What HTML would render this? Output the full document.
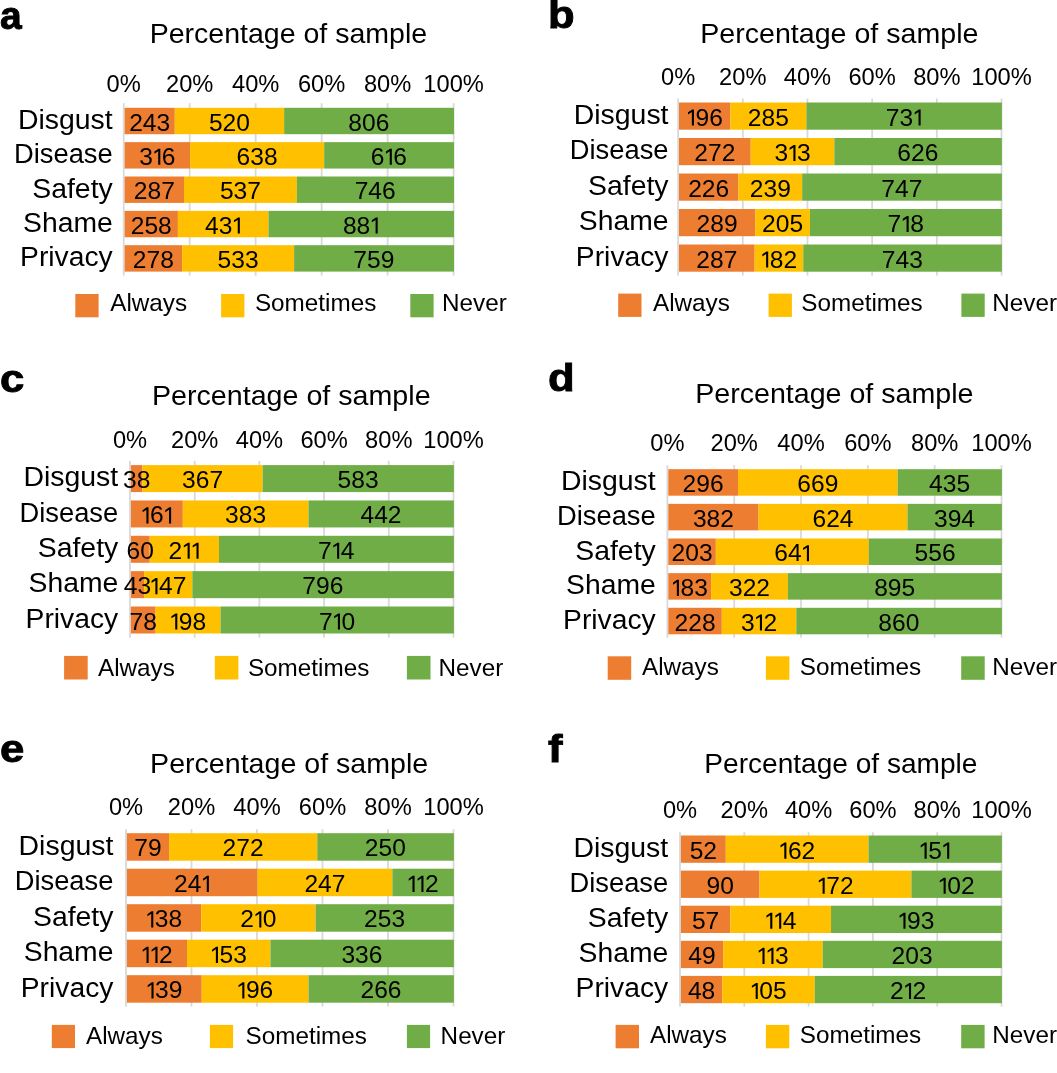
<!DOCTYPE html>
<html><head><meta charset="utf-8"><title>Chart</title>
<style>
html,body{margin:0;padding:0;background:#fff;width:1057px;height:1073px;overflow:hidden}
svg{display:block;will-change:transform;font-family:"Liberation Sans",sans-serif;fill:#000}
text{fill:#000}
</style></head><body>
<svg width="1057" height="1073" viewBox="0 0 1057 1073">
<defs><path id="one" d="M0.85 0 L2.95 0 L2.95 -16.1 L1.2 -16.1 L-2.95 -13.3 L-2.95 -11.2 L0.85 -13.6 Z" fill="#000"/></defs>
<rect width="1057" height="1073" fill="#fff"/>
<g id="pa">
<rect x="122.8" y="103.2" width="1.8" height="172.5" fill="#D9D9D9"/>
<rect x="188.78" y="103.2" width="1.8" height="172.5" fill="#D9D9D9"/>
<rect x="254.76" y="103.2" width="1.8" height="172.5" fill="#D9D9D9"/>
<rect x="320.74" y="103.2" width="1.8" height="172.5" fill="#D9D9D9"/>
<rect x="386.72" y="103.2" width="1.8" height="172.5" fill="#D9D9D9"/>
<rect x="452.7" y="103.2" width="1.8" height="172.5" fill="#D9D9D9"/>
<rect x="124.6" y="107.8" width="50.19" height="26.4" fill="#ED7D31"/>
<rect x="174.79" y="107.8" width="109.34" height="26.4" fill="#FFC000"/>
<rect x="284.13" y="107.8" width="169.87" height="26.4" fill="#70AD47"/>
<rect x="124.6" y="142.15" width="65.5" height="26.4" fill="#ED7D31"/>
<rect x="190.1" y="142.15" width="134.06" height="26.4" fill="#FFC000"/>
<rect x="324.16" y="142.15" width="129.84" height="26.4" fill="#70AD47"/>
<rect x="124.6" y="176.5" width="59.41" height="26.4" fill="#ED7D31"/>
<rect x="184.01" y="176.5" width="112.84" height="26.4" fill="#FFC000"/>
<rect x="296.84" y="176.5" width="157.16" height="26.4" fill="#70AD47"/>
<rect x="124.6" y="210.85" width="53.31" height="26.4" fill="#ED7D31"/>
<rect x="177.91" y="210.85" width="90.56" height="26.4" fill="#FFC000"/>
<rect x="268.48" y="210.85" width="185.52" height="26.4" fill="#70AD47"/>
<rect x="124.6" y="245.2" width="57.52" height="26.4" fill="#ED7D31"/>
<rect x="182.12" y="245.2" width="112" height="26.4" fill="#FFC000"/>
<rect x="294.11" y="245.2" width="159.89" height="26.4" fill="#70AD47"/>
<text transform="translate(136,130.5) scale(1.07,1)" text-anchor="middle" font-size="23">2</text><text transform="translate(149.7,130.5) scale(1.07,1)" text-anchor="middle" font-size="23">4</text><text transform="translate(163.4,130.5) scale(1.07,1)" text-anchor="middle" font-size="23">3</text>
<text transform="translate(215.76,130.5) scale(1.07,1)" text-anchor="middle" font-size="23">5</text><text transform="translate(229.46,130.5) scale(1.07,1)" text-anchor="middle" font-size="23">2</text><text transform="translate(243.16,130.5) scale(1.07,1)" text-anchor="middle" font-size="23">0</text>
<text transform="translate(355.16,130.5) scale(1.07,1)" text-anchor="middle" font-size="23">8</text><text transform="translate(368.86,130.5) scale(1.07,1)" text-anchor="middle" font-size="23">0</text><text transform="translate(382.56,130.5) scale(1.07,1)" text-anchor="middle" font-size="23">6</text>
<text transform="translate(146.05,164.85) scale(1.07,1)" text-anchor="middle" font-size="23">3</text><use href="#one" x="157.35" y="164.85"/><text transform="translate(168.65,164.85) scale(1.07,1)" text-anchor="middle" font-size="23">6</text>
<text transform="translate(243.43,164.85) scale(1.07,1)" text-anchor="middle" font-size="23">6</text><text transform="translate(257.13,164.85) scale(1.07,1)" text-anchor="middle" font-size="23">3</text><text transform="translate(270.83,164.85) scale(1.07,1)" text-anchor="middle" font-size="23">8</text>
<text transform="translate(377.58,164.85) scale(1.07,1)" text-anchor="middle" font-size="23">6</text><use href="#one" x="388.88" y="164.85"/><text transform="translate(400.18,164.85) scale(1.07,1)" text-anchor="middle" font-size="23">6</text>
<text transform="translate(140.6,199.2) scale(1.07,1)" text-anchor="middle" font-size="23">2</text><text transform="translate(154.3,199.2) scale(1.07,1)" text-anchor="middle" font-size="23">8</text><text transform="translate(168,199.2) scale(1.07,1)" text-anchor="middle" font-size="23">7</text>
<text transform="translate(226.73,199.2) scale(1.07,1)" text-anchor="middle" font-size="23">5</text><text transform="translate(240.43,199.2) scale(1.07,1)" text-anchor="middle" font-size="23">3</text><text transform="translate(254.13,199.2) scale(1.07,1)" text-anchor="middle" font-size="23">7</text>
<text transform="translate(361.52,199.2) scale(1.07,1)" text-anchor="middle" font-size="23">7</text><text transform="translate(375.22,199.2) scale(1.07,1)" text-anchor="middle" font-size="23">4</text><text transform="translate(388.92,199.2) scale(1.07,1)" text-anchor="middle" font-size="23">6</text>
<text transform="translate(137.56,233.55) scale(1.07,1)" text-anchor="middle" font-size="23">2</text><text transform="translate(151.26,233.55) scale(1.07,1)" text-anchor="middle" font-size="23">5</text><text transform="translate(164.96,233.55) scale(1.07,1)" text-anchor="middle" font-size="23">8</text>
<text transform="translate(211.9,233.55) scale(1.07,1)" text-anchor="middle" font-size="23">4</text><text transform="translate(225.6,233.55) scale(1.07,1)" text-anchor="middle" font-size="23">3</text><use href="#one" x="236.9" y="233.55"/>
<text transform="translate(349.74,233.55) scale(1.07,1)" text-anchor="middle" font-size="23">8</text><text transform="translate(363.44,233.55) scale(1.07,1)" text-anchor="middle" font-size="23">8</text><use href="#one" x="374.74" y="233.55"/>
<text transform="translate(139.66,267.9) scale(1.07,1)" text-anchor="middle" font-size="23">2</text><text transform="translate(153.36,267.9) scale(1.07,1)" text-anchor="middle" font-size="23">7</text><text transform="translate(167.06,267.9) scale(1.07,1)" text-anchor="middle" font-size="23">8</text>
<text transform="translate(224.41,267.9) scale(1.07,1)" text-anchor="middle" font-size="23">5</text><text transform="translate(238.11,267.9) scale(1.07,1)" text-anchor="middle" font-size="23">3</text><text transform="translate(251.81,267.9) scale(1.07,1)" text-anchor="middle" font-size="23">3</text>
<text transform="translate(360.16,267.9) scale(1.07,1)" text-anchor="middle" font-size="23">7</text><text transform="translate(373.86,267.9) scale(1.07,1)" text-anchor="middle" font-size="23">5</text><text transform="translate(387.56,267.9) scale(1.07,1)" text-anchor="middle" font-size="23">9</text>
<text transform="translate(112.7,128.8) scale(1.034,1)" text-anchor="end" font-size="27.5">Disgust</text>
<text transform="translate(112.7,163.15) scale(0.994,1)" text-anchor="end" font-size="27.5">Disease</text>
<text transform="translate(112.7,197.5) scale(1.032,1)" text-anchor="end" font-size="27.5">Safety</text>
<text transform="translate(112.7,231.85) scale(1.029,1)" text-anchor="end" font-size="27.5">Shame</text>
<text transform="translate(112.7,266.2) scale(1.028,1)" text-anchor="end" font-size="27.5">Privacy</text>
<text transform="translate(123.7,91.8) scale(1.03,1)" text-anchor="middle" font-size="23">0%</text>
<text transform="translate(189.68,91.8) scale(1.03,1)" text-anchor="middle" font-size="23">20%</text>
<text transform="translate(255.66,91.8) scale(1.03,1)" text-anchor="middle" font-size="23">40%</text>
<text transform="translate(321.64,91.8) scale(1.03,1)" text-anchor="middle" font-size="23">60%</text>
<text transform="translate(387.62,91.8) scale(1.03,1)" text-anchor="middle" font-size="23">80%</text>
<text transform="translate(453.6,91.8) scale(1.03,1)" text-anchor="middle" font-size="23">100%</text>
<text x="288.45" y="42.7" text-anchor="middle" font-size="27.5" textLength="277.5" lengthAdjust="spacingAndGlyphs">Percentage of sample</text>
<text transform="translate(0,28.8) scale(1.0,1)" font-size="39" font-weight="bold" stroke="#000" stroke-width="0.9">a</text>
<rect x="75.3" y="294" width="23.3" height="23.3" fill="#ED7D31"/>
<text transform="translate(110.2,311) scale(1.012,1)" font-size="24">Always</text>
<rect x="221.1" y="294" width="23.3" height="23.3" fill="#FFC000"/>
<text transform="translate(254.9,311) scale(1.012,1)" font-size="24">Sometimes</text>
<rect x="410.3" y="294" width="23.3" height="23.3" fill="#70AD47"/>
<text transform="translate(442,311) scale(1.012,1)" font-size="24">Never</text>
</g>
<g id="pb">
<rect x="677.2" y="98.5" width="1.8" height="177.1" fill="#D9D9D9"/>
<rect x="741.88" y="98.5" width="1.8" height="177.1" fill="#D9D9D9"/>
<rect x="806.56" y="98.5" width="1.8" height="177.1" fill="#D9D9D9"/>
<rect x="871.24" y="98.5" width="1.8" height="177.1" fill="#D9D9D9"/>
<rect x="935.92" y="98.5" width="1.8" height="177.1" fill="#D9D9D9"/>
<rect x="1000.6" y="98.5" width="1.8" height="177.1" fill="#D9D9D9"/>
<rect x="679" y="102.5" width="51.4" height="27.2" fill="#ED7D31"/>
<rect x="730.4" y="102.5" width="76.05" height="27.2" fill="#FFC000"/>
<rect x="806.45" y="102.5" width="195.45" height="27.2" fill="#70AD47"/>
<rect x="679" y="138" width="71.74" height="27.2" fill="#ED7D31"/>
<rect x="750.74" y="138" width="83.59" height="27.2" fill="#FFC000"/>
<rect x="834.33" y="138" width="167.57" height="27.2" fill="#70AD47"/>
<rect x="679" y="173.5" width="59.4" height="27.2" fill="#ED7D31"/>
<rect x="738.4" y="173.5" width="63.77" height="27.2" fill="#FFC000"/>
<rect x="802.18" y="173.5" width="199.72" height="27.2" fill="#70AD47"/>
<rect x="679" y="209" width="76.21" height="27.2" fill="#ED7D31"/>
<rect x="755.21" y="209" width="54.7" height="27.2" fill="#FFC000"/>
<rect x="809.91" y="209" width="191.99" height="27.2" fill="#70AD47"/>
<rect x="679" y="244.5" width="75.68" height="27.2" fill="#ED7D31"/>
<rect x="754.68" y="244.5" width="48.56" height="27.2" fill="#FFC000"/>
<rect x="803.24" y="244.5" width="198.66" height="27.2" fill="#70AD47"/>
<use href="#one" x="691" y="125.6"/><text transform="translate(702.3,125.6) scale(1.07,1)" text-anchor="middle" font-size="23">9</text><text transform="translate(716,125.6) scale(1.07,1)" text-anchor="middle" font-size="23">6</text>
<text transform="translate(754.72,125.6) scale(1.07,1)" text-anchor="middle" font-size="23">2</text><text transform="translate(768.42,125.6) scale(1.07,1)" text-anchor="middle" font-size="23">8</text><text transform="translate(782.12,125.6) scale(1.07,1)" text-anchor="middle" font-size="23">5</text>
<text transform="translate(892.67,125.6) scale(1.07,1)" text-anchor="middle" font-size="23">7</text><text transform="translate(906.37,125.6) scale(1.07,1)" text-anchor="middle" font-size="23">3</text><use href="#one" x="917.67" y="125.6"/>
<text transform="translate(701.17,161.1) scale(1.07,1)" text-anchor="middle" font-size="23">2</text><text transform="translate(714.87,161.1) scale(1.07,1)" text-anchor="middle" font-size="23">7</text><text transform="translate(728.57,161.1) scale(1.07,1)" text-anchor="middle" font-size="23">2</text>
<text transform="translate(781.23,161.1) scale(1.07,1)" text-anchor="middle" font-size="23">3</text><use href="#one" x="792.53" y="161.1"/><text transform="translate(803.83,161.1) scale(1.07,1)" text-anchor="middle" font-size="23">3</text>
<text transform="translate(904.21,161.1) scale(1.07,1)" text-anchor="middle" font-size="23">6</text><text transform="translate(917.91,161.1) scale(1.07,1)" text-anchor="middle" font-size="23">2</text><text transform="translate(931.61,161.1) scale(1.07,1)" text-anchor="middle" font-size="23">6</text>
<text transform="translate(695,196.6) scale(1.07,1)" text-anchor="middle" font-size="23">2</text><text transform="translate(708.7,196.6) scale(1.07,1)" text-anchor="middle" font-size="23">2</text><text transform="translate(722.4,196.6) scale(1.07,1)" text-anchor="middle" font-size="23">6</text>
<text transform="translate(756.59,196.6) scale(1.07,1)" text-anchor="middle" font-size="23">2</text><text transform="translate(770.29,196.6) scale(1.07,1)" text-anchor="middle" font-size="23">3</text><text transform="translate(783.99,196.6) scale(1.07,1)" text-anchor="middle" font-size="23">9</text>
<text transform="translate(888.14,196.6) scale(1.07,1)" text-anchor="middle" font-size="23">7</text><text transform="translate(901.84,196.6) scale(1.07,1)" text-anchor="middle" font-size="23">4</text><text transform="translate(915.54,196.6) scale(1.07,1)" text-anchor="middle" font-size="23">7</text>
<text transform="translate(703.41,232.1) scale(1.07,1)" text-anchor="middle" font-size="23">2</text><text transform="translate(717.11,232.1) scale(1.07,1)" text-anchor="middle" font-size="23">8</text><text transform="translate(730.81,232.1) scale(1.07,1)" text-anchor="middle" font-size="23">9</text>
<text transform="translate(768.86,232.1) scale(1.07,1)" text-anchor="middle" font-size="23">2</text><text transform="translate(782.56,232.1) scale(1.07,1)" text-anchor="middle" font-size="23">0</text><text transform="translate(796.26,232.1) scale(1.07,1)" text-anchor="middle" font-size="23">5</text>
<text transform="translate(894.41,232.1) scale(1.07,1)" text-anchor="middle" font-size="23">7</text><use href="#one" x="905.71" y="232.1"/><text transform="translate(917.01,232.1) scale(1.07,1)" text-anchor="middle" font-size="23">8</text>
<text transform="translate(703.14,267.6) scale(1.07,1)" text-anchor="middle" font-size="23">2</text><text transform="translate(716.84,267.6) scale(1.07,1)" text-anchor="middle" font-size="23">8</text><text transform="translate(730.54,267.6) scale(1.07,1)" text-anchor="middle" font-size="23">7</text>
<use href="#one" x="765.26" y="267.6"/><text transform="translate(776.56,267.6) scale(1.07,1)" text-anchor="middle" font-size="23">8</text><text transform="translate(790.26,267.6) scale(1.07,1)" text-anchor="middle" font-size="23">2</text>
<text transform="translate(888.67,267.6) scale(1.07,1)" text-anchor="middle" font-size="23">7</text><text transform="translate(902.37,267.6) scale(1.07,1)" text-anchor="middle" font-size="23">4</text><text transform="translate(916.07,267.6) scale(1.07,1)" text-anchor="middle" font-size="23">3</text>
<text transform="translate(668.5,123.9) scale(1.034,1)" text-anchor="end" font-size="27.5">Disgust</text>
<text transform="translate(668.5,159.4) scale(0.994,1)" text-anchor="end" font-size="27.5">Disease</text>
<text transform="translate(668.5,194.9) scale(1.032,1)" text-anchor="end" font-size="27.5">Safety</text>
<text transform="translate(668.5,230.4) scale(1.029,1)" text-anchor="end" font-size="27.5">Shame</text>
<text transform="translate(668.5,265.9) scale(1.028,1)" text-anchor="end" font-size="27.5">Privacy</text>
<text transform="translate(678.1,85) scale(1.03,1)" text-anchor="middle" font-size="23">0%</text>
<text transform="translate(742.78,85) scale(1.03,1)" text-anchor="middle" font-size="23">20%</text>
<text transform="translate(807.46,85) scale(1.03,1)" text-anchor="middle" font-size="23">40%</text>
<text transform="translate(872.14,85) scale(1.03,1)" text-anchor="middle" font-size="23">60%</text>
<text transform="translate(936.82,85) scale(1.03,1)" text-anchor="middle" font-size="23">80%</text>
<text transform="translate(1001.5,85) scale(1.03,1)" text-anchor="middle" font-size="23">100%</text>
<text x="839.35" y="42.9" text-anchor="middle" font-size="27.5" textLength="278.1" lengthAdjust="spacingAndGlyphs">Percentage of sample</text>
<text transform="translate(548,28.3) scale(1.12,1)" font-size="39" font-weight="bold" stroke="#000" stroke-width="0.9">b</text>
<rect x="618.2" y="293.6" width="23.3" height="23.3" fill="#ED7D31"/>
<text transform="translate(653,310.5) scale(1.012,1)" font-size="24">Always</text>
<rect x="768.6" y="293.6" width="23.3" height="23.3" fill="#FFC000"/>
<text transform="translate(801.3,310.5) scale(1.012,1)" font-size="24">Sometimes</text>
<rect x="961.4" y="293.6" width="23.3" height="23.3" fill="#70AD47"/>
<text transform="translate(992.3,310.5) scale(1.012,1)" font-size="24">Never</text>
</g>
<g id="pc">
<rect x="129.1" y="460.9" width="1.8" height="176.8" fill="#D9D9D9"/>
<rect x="193.8" y="460.9" width="1.8" height="176.8" fill="#D9D9D9"/>
<rect x="258.5" y="460.9" width="1.8" height="176.8" fill="#D9D9D9"/>
<rect x="323.2" y="460.9" width="1.8" height="176.8" fill="#D9D9D9"/>
<rect x="387.9" y="460.9" width="1.8" height="176.8" fill="#D9D9D9"/>
<rect x="452.6" y="460.9" width="1.8" height="176.8" fill="#D9D9D9"/>
<rect x="130.9" y="465.1" width="11.54" height="27" fill="#ED7D31"/>
<rect x="142.44" y="465.1" width="120.17" height="27" fill="#FFC000"/>
<rect x="262.61" y="465.1" width="191.29" height="27" fill="#70AD47"/>
<rect x="130.9" y="500.45" width="51.92" height="27" fill="#ED7D31"/>
<rect x="182.82" y="500.45" width="125.66" height="27" fill="#FFC000"/>
<rect x="308.48" y="500.45" width="145.42" height="27" fill="#70AD47"/>
<rect x="130.9" y="535.8" width="18.81" height="27" fill="#ED7D31"/>
<rect x="149.71" y="535.8" width="69.3" height="27" fill="#FFC000"/>
<rect x="219" y="535.8" width="234.9" height="27" fill="#70AD47"/>
<rect x="130.9" y="571.15" width="13.21" height="27" fill="#ED7D31"/>
<rect x="144.11" y="571.15" width="48.23" height="27" fill="#FFC000"/>
<rect x="192.34" y="571.15" width="261.56" height="27" fill="#70AD47"/>
<rect x="130.9" y="606.5" width="24.69" height="27" fill="#ED7D31"/>
<rect x="155.59" y="606.5" width="64.96" height="27" fill="#FFC000"/>
<rect x="220.55" y="606.5" width="233.35" height="27" fill="#70AD47"/>
<text transform="translate(129.82,488.1) scale(1.07,1)" text-anchor="middle" font-size="23">3</text><text transform="translate(143.52,488.1) scale(1.07,1)" text-anchor="middle" font-size="23">8</text>
<text transform="translate(188.83,488.1) scale(1.07,1)" text-anchor="middle" font-size="23">3</text><text transform="translate(202.53,488.1) scale(1.07,1)" text-anchor="middle" font-size="23">6</text><text transform="translate(216.23,488.1) scale(1.07,1)" text-anchor="middle" font-size="23">7</text>
<text transform="translate(344.35,488.1) scale(1.07,1)" text-anchor="middle" font-size="23">5</text><text transform="translate(358.05,488.1) scale(1.07,1)" text-anchor="middle" font-size="23">8</text><text transform="translate(371.75,488.1) scale(1.07,1)" text-anchor="middle" font-size="23">3</text>
<use href="#one" x="145.56" y="523.45"/><text transform="translate(156.86,523.45) scale(1.07,1)" text-anchor="middle" font-size="23">6</text><use href="#one" x="168.16" y="523.45"/>
<text transform="translate(231.95,523.45) scale(1.07,1)" text-anchor="middle" font-size="23">3</text><text transform="translate(245.65,523.45) scale(1.07,1)" text-anchor="middle" font-size="23">8</text><text transform="translate(259.35,523.45) scale(1.07,1)" text-anchor="middle" font-size="23">3</text>
<text transform="translate(367.29,523.45) scale(1.07,1)" text-anchor="middle" font-size="23">4</text><text transform="translate(380.99,523.45) scale(1.07,1)" text-anchor="middle" font-size="23">4</text><text transform="translate(394.69,523.45) scale(1.07,1)" text-anchor="middle" font-size="23">2</text>
<text transform="translate(133.45,558.8) scale(1.07,1)" text-anchor="middle" font-size="23">6</text><text transform="translate(147.15,558.8) scale(1.07,1)" text-anchor="middle" font-size="23">0</text>
<text transform="translate(175.45,558.8) scale(1.07,1)" text-anchor="middle" font-size="23">2</text><use href="#one" x="186.75" y="558.8"/><use href="#one" x="195.65" y="558.8"/>
<text transform="translate(324.95,558.8) scale(1.07,1)" text-anchor="middle" font-size="23">7</text><use href="#one" x="336.25" y="558.8"/><text transform="translate(347.55,558.8) scale(1.07,1)" text-anchor="middle" font-size="23">4</text>
<text transform="translate(130.65,594.15) scale(1.07,1)" text-anchor="middle" font-size="23">4</text><text transform="translate(144.35,594.15) scale(1.07,1)" text-anchor="middle" font-size="23">3</text>
<use href="#one" x="154.52" y="594.15"/><text transform="translate(165.82,594.15) scale(1.07,1)" text-anchor="middle" font-size="23">4</text><text transform="translate(179.52,594.15) scale(1.07,1)" text-anchor="middle" font-size="23">7</text>
<text transform="translate(309.22,594.15) scale(1.07,1)" text-anchor="middle" font-size="23">7</text><text transform="translate(322.92,594.15) scale(1.07,1)" text-anchor="middle" font-size="23">9</text><text transform="translate(336.62,594.15) scale(1.07,1)" text-anchor="middle" font-size="23">6</text>
<text transform="translate(136.4,629.5) scale(1.07,1)" text-anchor="middle" font-size="23">7</text><text transform="translate(150.1,629.5) scale(1.07,1)" text-anchor="middle" font-size="23">8</text>
<use href="#one" x="174.37" y="629.5"/><text transform="translate(185.67,629.5) scale(1.07,1)" text-anchor="middle" font-size="23">9</text><text transform="translate(199.37,629.5) scale(1.07,1)" text-anchor="middle" font-size="23">8</text>
<text transform="translate(325.73,629.5) scale(1.07,1)" text-anchor="middle" font-size="23">7</text><use href="#one" x="337.03" y="629.5"/><text transform="translate(348.33,629.5) scale(1.07,1)" text-anchor="middle" font-size="23">0</text>
<text transform="translate(118.2,486.4) scale(1.034,1)" text-anchor="end" font-size="27.5">Disgust</text>
<text transform="translate(118.2,521.75) scale(0.994,1)" text-anchor="end" font-size="27.5">Disease</text>
<text transform="translate(118.2,557.1) scale(1.032,1)" text-anchor="end" font-size="27.5">Safety</text>
<text transform="translate(118.2,592.45) scale(1.029,1)" text-anchor="end" font-size="27.5">Shame</text>
<text transform="translate(118.2,627.8) scale(1.028,1)" text-anchor="end" font-size="27.5">Privacy</text>
<text transform="translate(130,447.6) scale(1.03,1)" text-anchor="middle" font-size="23">0%</text>
<text transform="translate(194.7,447.6) scale(1.03,1)" text-anchor="middle" font-size="23">20%</text>
<text transform="translate(259.4,447.6) scale(1.03,1)" text-anchor="middle" font-size="23">40%</text>
<text transform="translate(324.1,447.6) scale(1.03,1)" text-anchor="middle" font-size="23">60%</text>
<text transform="translate(388.8,447.6) scale(1.03,1)" text-anchor="middle" font-size="23">80%</text>
<text transform="translate(453.5,447.6) scale(1.03,1)" text-anchor="middle" font-size="23">100%</text>
<text x="291.3" y="405" text-anchor="middle" font-size="27.5" textLength="278.6" lengthAdjust="spacingAndGlyphs">Percentage of sample</text>
<text transform="translate(0,391.5) scale(1.12,1)" font-size="39" font-weight="bold" stroke="#000" stroke-width="0.9">c</text>
<rect x="64.1" y="655.9" width="23.6" height="23.6" fill="#ED7D31"/>
<text transform="translate(98,676.3) scale(1.012,1)" font-size="24">Always</text>
<rect x="214.8" y="655.9" width="23.6" height="23.6" fill="#FFC000"/>
<text transform="translate(247.9,676.3) scale(1.012,1)" font-size="24">Sometimes</text>
<rect x="406.9" y="655.9" width="23.6" height="23.6" fill="#70AD47"/>
<text transform="translate(438.5,676.3) scale(1.012,1)" font-size="24">Never</text>
</g>
<g id="pd">
<rect x="666.5" y="465.2" width="1.8" height="172.5" fill="#D9D9D9"/>
<rect x="733.32" y="465.2" width="1.8" height="172.5" fill="#D9D9D9"/>
<rect x="800.14" y="465.2" width="1.8" height="172.5" fill="#D9D9D9"/>
<rect x="866.96" y="465.2" width="1.8" height="172.5" fill="#D9D9D9"/>
<rect x="933.78" y="465.2" width="1.8" height="172.5" fill="#D9D9D9"/>
<rect x="1000.6" y="465.2" width="1.8" height="172.5" fill="#D9D9D9"/>
<rect x="668.3" y="469.2" width="69.74" height="26.5" fill="#ED7D31"/>
<rect x="738.04" y="469.2" width="159.65" height="26.5" fill="#FFC000"/>
<rect x="897.69" y="469.2" width="104.21" height="26.5" fill="#70AD47"/>
<rect x="668.3" y="503.85" width="90.26" height="26.5" fill="#ED7D31"/>
<rect x="758.56" y="503.85" width="148.91" height="26.5" fill="#FFC000"/>
<rect x="907.47" y="503.85" width="94.43" height="26.5" fill="#70AD47"/>
<rect x="668.3" y="538.5" width="47.54" height="26.5" fill="#ED7D31"/>
<rect x="715.84" y="538.5" width="152.97" height="26.5" fill="#FFC000"/>
<rect x="868.81" y="538.5" width="133.09" height="26.5" fill="#70AD47"/>
<rect x="668.3" y="573.15" width="42.77" height="26.5" fill="#ED7D31"/>
<rect x="711.07" y="573.15" width="76.84" height="26.5" fill="#FFC000"/>
<rect x="787.91" y="573.15" width="213.99" height="26.5" fill="#70AD47"/>
<rect x="668.3" y="607.8" width="53.51" height="26.5" fill="#ED7D31"/>
<rect x="721.81" y="607.8" width="74.46" height="26.5" fill="#FFC000"/>
<rect x="796.27" y="607.8" width="205.63" height="26.5" fill="#70AD47"/>
<text transform="translate(689.47,491.95) scale(1.07,1)" text-anchor="middle" font-size="23">2</text><text transform="translate(703.17,491.95) scale(1.07,1)" text-anchor="middle" font-size="23">9</text><text transform="translate(716.87,491.95) scale(1.07,1)" text-anchor="middle" font-size="23">6</text>
<text transform="translate(804.16,491.95) scale(1.07,1)" text-anchor="middle" font-size="23">6</text><text transform="translate(817.86,491.95) scale(1.07,1)" text-anchor="middle" font-size="23">6</text><text transform="translate(831.56,491.95) scale(1.07,1)" text-anchor="middle" font-size="23">9</text>
<text transform="translate(935.9,491.95) scale(1.07,1)" text-anchor="middle" font-size="23">4</text><text transform="translate(949.6,491.95) scale(1.07,1)" text-anchor="middle" font-size="23">3</text><text transform="translate(963.3,491.95) scale(1.07,1)" text-anchor="middle" font-size="23">5</text>
<text transform="translate(699.73,526.6) scale(1.07,1)" text-anchor="middle" font-size="23">3</text><text transform="translate(713.43,526.6) scale(1.07,1)" text-anchor="middle" font-size="23">8</text><text transform="translate(727.13,526.6) scale(1.07,1)" text-anchor="middle" font-size="23">2</text>
<text transform="translate(819.32,526.6) scale(1.07,1)" text-anchor="middle" font-size="23">6</text><text transform="translate(833.02,526.6) scale(1.07,1)" text-anchor="middle" font-size="23">2</text><text transform="translate(846.72,526.6) scale(1.07,1)" text-anchor="middle" font-size="23">4</text>
<text transform="translate(940.79,526.6) scale(1.07,1)" text-anchor="middle" font-size="23">3</text><text transform="translate(954.49,526.6) scale(1.07,1)" text-anchor="middle" font-size="23">9</text><text transform="translate(968.19,526.6) scale(1.07,1)" text-anchor="middle" font-size="23">4</text>
<text transform="translate(678.37,561.25) scale(1.07,1)" text-anchor="middle" font-size="23">2</text><text transform="translate(692.07,561.25) scale(1.07,1)" text-anchor="middle" font-size="23">0</text><text transform="translate(705.77,561.25) scale(1.07,1)" text-anchor="middle" font-size="23">3</text>
<text transform="translate(781.03,561.25) scale(1.07,1)" text-anchor="middle" font-size="23">6</text><text transform="translate(794.73,561.25) scale(1.07,1)" text-anchor="middle" font-size="23">4</text><use href="#one" x="806.03" y="561.25"/>
<text transform="translate(921.46,561.25) scale(1.07,1)" text-anchor="middle" font-size="23">5</text><text transform="translate(935.16,561.25) scale(1.07,1)" text-anchor="middle" font-size="23">5</text><text transform="translate(948.86,561.25) scale(1.07,1)" text-anchor="middle" font-size="23">6</text>
<use href="#one" x="675.99" y="595.9"/><text transform="translate(687.29,595.9) scale(1.07,1)" text-anchor="middle" font-size="23">8</text><text transform="translate(700.99,595.9) scale(1.07,1)" text-anchor="middle" font-size="23">3</text>
<text transform="translate(735.79,595.9) scale(1.07,1)" text-anchor="middle" font-size="23">3</text><text transform="translate(749.49,595.9) scale(1.07,1)" text-anchor="middle" font-size="23">2</text><text transform="translate(763.19,595.9) scale(1.07,1)" text-anchor="middle" font-size="23">2</text>
<text transform="translate(881.01,595.9) scale(1.07,1)" text-anchor="middle" font-size="23">8</text><text transform="translate(894.71,595.9) scale(1.07,1)" text-anchor="middle" font-size="23">9</text><text transform="translate(908.41,595.9) scale(1.07,1)" text-anchor="middle" font-size="23">5</text>
<text transform="translate(681.36,630.55) scale(1.07,1)" text-anchor="middle" font-size="23">2</text><text transform="translate(695.06,630.55) scale(1.07,1)" text-anchor="middle" font-size="23">2</text><text transform="translate(708.76,630.55) scale(1.07,1)" text-anchor="middle" font-size="23">8</text>
<text transform="translate(747.74,630.55) scale(1.07,1)" text-anchor="middle" font-size="23">3</text><use href="#one" x="759.04" y="630.55"/><text transform="translate(770.34,630.55) scale(1.07,1)" text-anchor="middle" font-size="23">2</text>
<text transform="translate(885.18,630.55) scale(1.07,1)" text-anchor="middle" font-size="23">8</text><text transform="translate(898.88,630.55) scale(1.07,1)" text-anchor="middle" font-size="23">6</text><text transform="translate(912.58,630.55) scale(1.07,1)" text-anchor="middle" font-size="23">0</text>
<text transform="translate(655.7,490.25) scale(1.034,1)" text-anchor="end" font-size="27.5">Disgust</text>
<text transform="translate(655.7,524.9) scale(0.994,1)" text-anchor="end" font-size="27.5">Disease</text>
<text transform="translate(655.7,559.55) scale(1.032,1)" text-anchor="end" font-size="27.5">Safety</text>
<text transform="translate(655.7,594.2) scale(1.029,1)" text-anchor="end" font-size="27.5">Shame</text>
<text transform="translate(655.7,628.85) scale(1.028,1)" text-anchor="end" font-size="27.5">Privacy</text>
<text transform="translate(667.4,451.4) scale(1.03,1)" text-anchor="middle" font-size="23">0%</text>
<text transform="translate(734.22,451.4) scale(1.03,1)" text-anchor="middle" font-size="23">20%</text>
<text transform="translate(801.04,451.4) scale(1.03,1)" text-anchor="middle" font-size="23">40%</text>
<text transform="translate(867.86,451.4) scale(1.03,1)" text-anchor="middle" font-size="23">60%</text>
<text transform="translate(934.68,451.4) scale(1.03,1)" text-anchor="middle" font-size="23">80%</text>
<text transform="translate(1001.5,451.4) scale(1.03,1)" text-anchor="middle" font-size="23">100%</text>
<text x="834.35" y="403.1" text-anchor="middle" font-size="27.5" textLength="278.3" lengthAdjust="spacingAndGlyphs">Percentage of sample</text>
<text transform="translate(548,390.9) scale(1.12,1)" font-size="39" font-weight="bold" stroke="#000" stroke-width="0.9">d</text>
<rect x="607.7" y="656.3" width="23.5" height="23.5" fill="#ED7D31"/>
<text transform="translate(642,674.5) scale(1.012,1)" font-size="24">Always</text>
<rect x="765.9" y="656.3" width="23.5" height="23.5" fill="#FFC000"/>
<text transform="translate(799.8,674.5) scale(1.012,1)" font-size="24">Sometimes</text>
<rect x="961.2" y="656.3" width="23.5" height="23.5" fill="#70AD47"/>
<text transform="translate(992.3,674.5) scale(1.012,1)" font-size="24">Never</text>
</g>
<g id="pe">
<rect x="125.1" y="829.2" width="1.8" height="177.4" fill="#D9D9D9"/>
<rect x="190.6" y="829.2" width="1.8" height="177.4" fill="#D9D9D9"/>
<rect x="256.1" y="829.2" width="1.8" height="177.4" fill="#D9D9D9"/>
<rect x="321.6" y="829.2" width="1.8" height="177.4" fill="#D9D9D9"/>
<rect x="387.1" y="829.2" width="1.8" height="177.4" fill="#D9D9D9"/>
<rect x="452.6" y="829.2" width="1.8" height="177.4" fill="#D9D9D9"/>
<rect x="126.9" y="833.2" width="42.15" height="27.5" fill="#ED7D31"/>
<rect x="169.05" y="833.2" width="148.22" height="27.5" fill="#FFC000"/>
<rect x="317.27" y="833.2" width="136.63" height="27.5" fill="#70AD47"/>
<rect x="126.9" y="868.7" width="130.65" height="27.5" fill="#ED7D31"/>
<rect x="257.55" y="868.7" width="134.82" height="27.5" fill="#FFC000"/>
<rect x="392.37" y="868.7" width="61.53" height="27.5" fill="#70AD47"/>
<rect x="126.9" y="904.2" width="74.3" height="27.5" fill="#ED7D31"/>
<rect x="201.2" y="904.2" width="114.43" height="27.5" fill="#FFC000"/>
<rect x="315.63" y="904.2" width="138.27" height="27.5" fill="#70AD47"/>
<rect x="126.9" y="939.7" width="60.13" height="27.5" fill="#ED7D31"/>
<rect x="187.03" y="939.7" width="83.37" height="27.5" fill="#FFC000"/>
<rect x="270.41" y="939.7" width="183.49" height="27.5" fill="#70AD47"/>
<rect x="126.9" y="975.2" width="74.84" height="27.5" fill="#ED7D31"/>
<rect x="201.74" y="975.2" width="106.81" height="27.5" fill="#FFC000"/>
<rect x="308.55" y="975.2" width="145.35" height="27.5" fill="#70AD47"/>
<text transform="translate(141.12,856.45) scale(1.07,1)" text-anchor="middle" font-size="23">7</text><text transform="translate(154.82,856.45) scale(1.07,1)" text-anchor="middle" font-size="23">9</text>
<text transform="translate(229.46,856.45) scale(1.07,1)" text-anchor="middle" font-size="23">2</text><text transform="translate(243.16,856.45) scale(1.07,1)" text-anchor="middle" font-size="23">7</text><text transform="translate(256.86,856.45) scale(1.07,1)" text-anchor="middle" font-size="23">2</text>
<text transform="translate(371.68,856.45) scale(1.07,1)" text-anchor="middle" font-size="23">2</text><text transform="translate(385.38,856.45) scale(1.07,1)" text-anchor="middle" font-size="23">5</text><text transform="translate(399.08,856.45) scale(1.07,1)" text-anchor="middle" font-size="23">0</text>
<text transform="translate(180.92,891.95) scale(1.07,1)" text-anchor="middle" font-size="23">2</text><text transform="translate(194.62,891.95) scale(1.07,1)" text-anchor="middle" font-size="23">4</text><use href="#one" x="205.92" y="891.95"/>
<text transform="translate(311.26,891.95) scale(1.07,1)" text-anchor="middle" font-size="23">2</text><text transform="translate(324.96,891.95) scale(1.07,1)" text-anchor="middle" font-size="23">4</text><text transform="translate(338.66,891.95) scale(1.07,1)" text-anchor="middle" font-size="23">7</text>
<use href="#one" x="411.63" y="891.95"/><use href="#one" x="420.53" y="891.95"/><text transform="translate(431.83,891.95) scale(1.07,1)" text-anchor="middle" font-size="23">2</text>
<use href="#one" x="150.35" y="927.45"/><text transform="translate(161.65,927.45) scale(1.07,1)" text-anchor="middle" font-size="23">3</text><text transform="translate(175.35,927.45) scale(1.07,1)" text-anchor="middle" font-size="23">8</text>
<text transform="translate(247.12,927.45) scale(1.07,1)" text-anchor="middle" font-size="23">2</text><use href="#one" x="258.42" y="927.45"/><text transform="translate(269.72,927.45) scale(1.07,1)" text-anchor="middle" font-size="23">0</text>
<text transform="translate(370.87,927.45) scale(1.07,1)" text-anchor="middle" font-size="23">2</text><text transform="translate(384.57,927.45) scale(1.07,1)" text-anchor="middle" font-size="23">5</text><text transform="translate(398.27,927.45) scale(1.07,1)" text-anchor="middle" font-size="23">3</text>
<use href="#one" x="145.67" y="962.95"/><use href="#one" x="154.57" y="962.95"/><text transform="translate(165.87,962.95) scale(1.07,1)" text-anchor="middle" font-size="23">2</text>
<use href="#one" x="215.02" y="962.95"/><text transform="translate(226.32,962.95) scale(1.07,1)" text-anchor="middle" font-size="23">5</text><text transform="translate(240.02,962.95) scale(1.07,1)" text-anchor="middle" font-size="23">3</text>
<text transform="translate(348.25,962.95) scale(1.07,1)" text-anchor="middle" font-size="23">3</text><text transform="translate(361.95,962.95) scale(1.07,1)" text-anchor="middle" font-size="23">3</text><text transform="translate(375.65,962.95) scale(1.07,1)" text-anchor="middle" font-size="23">6</text>
<use href="#one" x="150.62" y="998.45"/><text transform="translate(161.92,998.45) scale(1.07,1)" text-anchor="middle" font-size="23">3</text><text transform="translate(175.62,998.45) scale(1.07,1)" text-anchor="middle" font-size="23">9</text>
<use href="#one" x="241.45" y="998.45"/><text transform="translate(252.75,998.45) scale(1.07,1)" text-anchor="middle" font-size="23">9</text><text transform="translate(266.45,998.45) scale(1.07,1)" text-anchor="middle" font-size="23">6</text>
<text transform="translate(367.32,998.45) scale(1.07,1)" text-anchor="middle" font-size="23">2</text><text transform="translate(381.02,998.45) scale(1.07,1)" text-anchor="middle" font-size="23">6</text><text transform="translate(394.72,998.45) scale(1.07,1)" text-anchor="middle" font-size="23">6</text>
<text transform="translate(113.4,854.75) scale(1.034,1)" text-anchor="end" font-size="27.5">Disgust</text>
<text transform="translate(113.4,890.25) scale(0.994,1)" text-anchor="end" font-size="27.5">Disease</text>
<text transform="translate(113.4,925.75) scale(1.032,1)" text-anchor="end" font-size="27.5">Safety</text>
<text transform="translate(113.4,961.25) scale(1.029,1)" text-anchor="end" font-size="27.5">Shame</text>
<text transform="translate(113.4,996.75) scale(1.028,1)" text-anchor="end" font-size="27.5">Privacy</text>
<text transform="translate(126,815.4) scale(1.03,1)" text-anchor="middle" font-size="23">0%</text>
<text transform="translate(191.5,815.4) scale(1.03,1)" text-anchor="middle" font-size="23">20%</text>
<text transform="translate(257,815.4) scale(1.03,1)" text-anchor="middle" font-size="23">40%</text>
<text transform="translate(322.5,815.4) scale(1.03,1)" text-anchor="middle" font-size="23">60%</text>
<text transform="translate(388,815.4) scale(1.03,1)" text-anchor="middle" font-size="23">80%</text>
<text transform="translate(453.5,815.4) scale(1.03,1)" text-anchor="middle" font-size="23">100%</text>
<text x="289.15" y="772.8" text-anchor="middle" font-size="27.5" textLength="278.1" lengthAdjust="spacingAndGlyphs">Percentage of sample</text>
<text transform="translate(0,762.4) scale(1.12,1)" font-size="39" font-weight="bold" stroke="#000" stroke-width="0.9">e</text>
<rect x="51.8" y="1024.9" width="23.2" height="23.2" fill="#ED7D31"/>
<text transform="translate(86,1044.4) scale(1.012,1)" font-size="24">Always</text>
<rect x="209.9" y="1024.9" width="23.2" height="23.2" fill="#FFC000"/>
<text transform="translate(245.5,1044.4) scale(1.012,1)" font-size="24">Sometimes</text>
<rect x="406.9" y="1024.9" width="23.2" height="23.2" fill="#70AD47"/>
<text transform="translate(440.6,1044.4) scale(1.012,1)" font-size="24">Never</text>
</g>
<g id="pf">
<rect x="679.1" y="832.2" width="1.8" height="174.4" fill="#D9D9D9"/>
<rect x="743.4" y="832.2" width="1.8" height="174.4" fill="#D9D9D9"/>
<rect x="807.7" y="832.2" width="1.8" height="174.4" fill="#D9D9D9"/>
<rect x="872" y="832.2" width="1.8" height="174.4" fill="#D9D9D9"/>
<rect x="936.3" y="832.2" width="1.8" height="174.4" fill="#D9D9D9"/>
<rect x="1000.6" y="832.2" width="1.8" height="174.4" fill="#D9D9D9"/>
<rect x="680.9" y="835.5" width="44.9" height="27.3" fill="#ED7D31"/>
<rect x="725.8" y="835.5" width="142.69" height="27.3" fill="#FFC000"/>
<rect x="868.5" y="835.5" width="133.4" height="27.3" fill="#70AD47"/>
<rect x="680.9" y="870.6" width="78.59" height="27.3" fill="#ED7D31"/>
<rect x="759.49" y="870.6" width="151.92" height="27.3" fill="#FFC000"/>
<rect x="911.41" y="870.6" width="90.49" height="27.3" fill="#70AD47"/>
<rect x="680.9" y="905.7" width="49.44" height="27.3" fill="#ED7D31"/>
<rect x="730.34" y="905.7" width="100.69" height="27.3" fill="#FFC000"/>
<rect x="831.03" y="905.7" width="170.87" height="27.3" fill="#70AD47"/>
<rect x="680.9" y="940.8" width="42.26" height="27.3" fill="#ED7D31"/>
<rect x="723.16" y="940.8" width="99.53" height="27.3" fill="#FFC000"/>
<rect x="822.69" y="940.8" width="179.21" height="27.3" fill="#70AD47"/>
<rect x="680.9" y="975.9" width="41.38" height="27.3" fill="#ED7D31"/>
<rect x="722.28" y="975.9" width="92.49" height="27.3" fill="#FFC000"/>
<rect x="814.77" y="975.9" width="187.13" height="27.3" fill="#70AD47"/>
<text transform="translate(696.5,858.65) scale(1.07,1)" text-anchor="middle" font-size="23">5</text><text transform="translate(710.2,858.65) scale(1.07,1)" text-anchor="middle" font-size="23">2</text>
<use href="#one" x="783.45" y="858.65"/><text transform="translate(794.75,858.65) scale(1.07,1)" text-anchor="middle" font-size="23">6</text><text transform="translate(808.45,858.65) scale(1.07,1)" text-anchor="middle" font-size="23">2</text>
<use href="#one" x="923.7" y="858.65"/><text transform="translate(935,858.65) scale(1.07,1)" text-anchor="middle" font-size="23">5</text><use href="#one" x="946.3" y="858.65"/>
<text transform="translate(713.35,893.75) scale(1.07,1)" text-anchor="middle" font-size="23">9</text><text transform="translate(727.05,893.75) scale(1.07,1)" text-anchor="middle" font-size="23">0</text>
<use href="#one" x="821.75" y="893.75"/><text transform="translate(833.05,893.75) scale(1.07,1)" text-anchor="middle" font-size="23">7</text><text transform="translate(846.75,893.75) scale(1.07,1)" text-anchor="middle" font-size="23">2</text>
<use href="#one" x="942.75" y="893.75"/><text transform="translate(954.05,893.75) scale(1.07,1)" text-anchor="middle" font-size="23">0</text><text transform="translate(967.75,893.75) scale(1.07,1)" text-anchor="middle" font-size="23">2</text>
<text transform="translate(698.77,928.85) scale(1.07,1)" text-anchor="middle" font-size="23">5</text><text transform="translate(712.47,928.85) scale(1.07,1)" text-anchor="middle" font-size="23">7</text>
<use href="#one" x="769.39" y="928.85"/><use href="#one" x="778.29" y="928.85"/><text transform="translate(789.59,928.85) scale(1.07,1)" text-anchor="middle" font-size="23">4</text>
<use href="#one" x="902.57" y="928.85"/><text transform="translate(913.87,928.85) scale(1.07,1)" text-anchor="middle" font-size="23">9</text><text transform="translate(927.57,928.85) scale(1.07,1)" text-anchor="middle" font-size="23">3</text>
<text transform="translate(695.18,963.95) scale(1.07,1)" text-anchor="middle" font-size="23">4</text><text transform="translate(708.88,963.95) scale(1.07,1)" text-anchor="middle" font-size="23">9</text>
<use href="#one" x="761.63" y="963.95"/><use href="#one" x="770.53" y="963.95"/><text transform="translate(781.83,963.95) scale(1.07,1)" text-anchor="middle" font-size="23">3</text>
<text transform="translate(898.4,963.95) scale(1.07,1)" text-anchor="middle" font-size="23">2</text><text transform="translate(912.1,963.95) scale(1.07,1)" text-anchor="middle" font-size="23">0</text><text transform="translate(925.8,963.95) scale(1.07,1)" text-anchor="middle" font-size="23">3</text>
<text transform="translate(694.74,999.05) scale(1.07,1)" text-anchor="middle" font-size="23">4</text><text transform="translate(708.44,999.05) scale(1.07,1)" text-anchor="middle" font-size="23">8</text>
<use href="#one" x="754.82" y="999.05"/><text transform="translate(766.12,999.05) scale(1.07,1)" text-anchor="middle" font-size="23">0</text><text transform="translate(779.82,999.05) scale(1.07,1)" text-anchor="middle" font-size="23">5</text>
<text transform="translate(896.83,999.05) scale(1.07,1)" text-anchor="middle" font-size="23">2</text><use href="#one" x="908.13" y="999.05"/><text transform="translate(919.43,999.05) scale(1.07,1)" text-anchor="middle" font-size="23">2</text>
<text transform="translate(668.2,856.95) scale(1.034,1)" text-anchor="end" font-size="27.5">Disgust</text>
<text transform="translate(668.2,892.05) scale(0.994,1)" text-anchor="end" font-size="27.5">Disease</text>
<text transform="translate(668.2,927.15) scale(1.032,1)" text-anchor="end" font-size="27.5">Safety</text>
<text transform="translate(668.2,962.25) scale(1.029,1)" text-anchor="end" font-size="27.5">Shame</text>
<text transform="translate(668.2,997.35) scale(1.028,1)" text-anchor="end" font-size="27.5">Privacy</text>
<text transform="translate(680,818.3) scale(1.03,1)" text-anchor="middle" font-size="23">0%</text>
<text transform="translate(744.3,818.3) scale(1.03,1)" text-anchor="middle" font-size="23">20%</text>
<text transform="translate(808.6,818.3) scale(1.03,1)" text-anchor="middle" font-size="23">40%</text>
<text transform="translate(872.9,818.3) scale(1.03,1)" text-anchor="middle" font-size="23">60%</text>
<text transform="translate(937.2,818.3) scale(1.03,1)" text-anchor="middle" font-size="23">80%</text>
<text transform="translate(1001.5,818.3) scale(1.03,1)" text-anchor="middle" font-size="23">100%</text>
<text x="840.85" y="772.9" text-anchor="middle" font-size="27.5" textLength="273.1" lengthAdjust="spacingAndGlyphs">Percentage of sample</text>
<text transform="translate(548,761.8) scale(1.12,1)" font-size="39" font-weight="bold" stroke="#000" stroke-width="0.9">f</text>
<rect x="615.6" y="1024.9" width="23.4" height="23.4" fill="#ED7D31"/>
<text transform="translate(650,1042.6) scale(1.012,1)" font-size="24">Always</text>
<rect x="765.9" y="1024.9" width="23.4" height="23.4" fill="#FFC000"/>
<text transform="translate(799.8,1042.6) scale(1.012,1)" font-size="24">Sometimes</text>
<rect x="961.2" y="1024.9" width="23.4" height="23.4" fill="#70AD47"/>
<text transform="translate(992.3,1042.6) scale(1.012,1)" font-size="24">Never</text>
</g>
</svg>
</body></html>
